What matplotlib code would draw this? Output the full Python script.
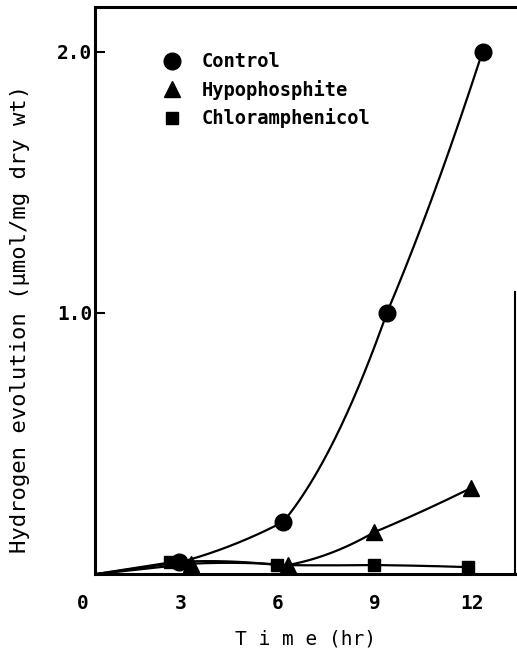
import numpy as np
import matplotlib
matplotlib.use('Agg')
import matplotlib.pyplot as plt
from matplotlib.transforms import ScaledTranslation

# Hydrogen evolution vs time, three treatments (first point is the origin)
control_t = [0, 2.6, 5.8, 9.0, 11.95]
control_h = [0, 0.045, 0.20, 1.00, 2.00]

hypo_t = [0, 2.95, 5.95, 8.6, 11.6]
hypo_h = [0, 0.04, 0.035, 0.16, 0.33]

chlor_t = [0, 2.3, 5.6, 8.6, 11.5]
chlor_h = [0, 0.045, 0.035, 0.035, 0.027]

x_ticks = [0, 3, 6, 9, 12]
y_ticks = [1.0, 2.0]
y_tick_labels = ['1.0', '2.0']


def smooth_curve(x, y, xs):
    # one parabolic arc per interval: it leaves each point halfway between
    # the previous and current chord slopes (joins hide under the markers)
    x = np.asarray(x, float)
    y = np.asarray(y, float)
    h = np.diff(x)
    d = np.diff(y) / h
    m0 = np.empty_like(d)
    m0[0] = d[0]
    m0[1:] = (d[:-1] + d[1:]) / 2
    m1 = 2 * d - m0
    idx = np.clip(np.searchsorted(x, xs) - 1, 0, len(x) - 2)
    t = (xs - x[idx]) / h[idx]
    h00 = 2 * t**3 - 3 * t**2 + 1
    h10 = t**3 - 2 * t**2 + t
    h01 = -2 * t**3 + 3 * t**2
    h11 = t**3 - t**2
    return (h00 * y[idx] + h10 * h[idx] * m0[idx]
            + h01 * y[idx + 1] + h11 * h[idx] * m1[idx])


plt.rcParams['font.family'] = ['DejaVu Sans Mono']
plt.rcParams['font.weight'] = 'bold'

fig = plt.figure(figsize=(5.17, 6.51), dpi=100)
ax = fig.add_axes([0.184, 0.118, 0.812, 0.871])

series = [
    (control_t, control_h, 'o', 12, 'Control'),
    (hypo_t, hypo_h, '^', 11, 'Hypophosphite'),
    (chlor_t, chlor_h, 's', 9, 'Chloramphenicol'),
]

handles = []
for t, h, mk, ms, name in series:
    xs = np.linspace(t[0], t[-1], 400)
    ax.plot(xs, smooth_curve(t, h, xs), color='black', lw=1.6)
    hd, = ax.plot(t[1:], h[1:], linestyle='none', marker=mk, ms=ms,
                  color='black', label=name)
    handles.append(hd)

ax.set_xlim(0, 12.95)
ax.set_ylim(0, 2.17)
ax.set_xticks(x_ticks)
ax.set_yticks(y_ticks)
ax.set_yticklabels(y_tick_labels)
ax.tick_params(direction='in', length=7, width=1.5, labelsize=14, pad=2)
ax.tick_params(axis='x', length=0, pad=14)

# x labels sit a little left of their positions
shift = ScaledTranslation(-12 / 100, 0, fig.dpi_scale_trans)
for lbl in ax.get_xticklabels():
    lbl.set_transform(lbl.get_transform() + shift)

for side in ['left', 'bottom', 'top']:
    ax.spines[side].set_linewidth(2.2)
ax.spines['right'].set_linewidth(1.5)
ax.spines['right'].set_bounds(0, 1.08)

ax.set_xlabel('T i m e (hr)', fontsize=14, labelpad=12)
ax.set_ylabel('Hydrogen evolution (\u03bcmol/mg dry wt)', fontsize=16)
ax.yaxis.set_label_coords(-0.155, 0.45)

ax.legend(handles=handles, loc='upper left', bbox_to_anchor=(0.115, 0.95),
          frameon=False, fontsize=13.5, handletextpad=1.0, labelspacing=0.45,
          handlelength=1.2)

fig.savefig('out.png', dpi=100, facecolor='white')
